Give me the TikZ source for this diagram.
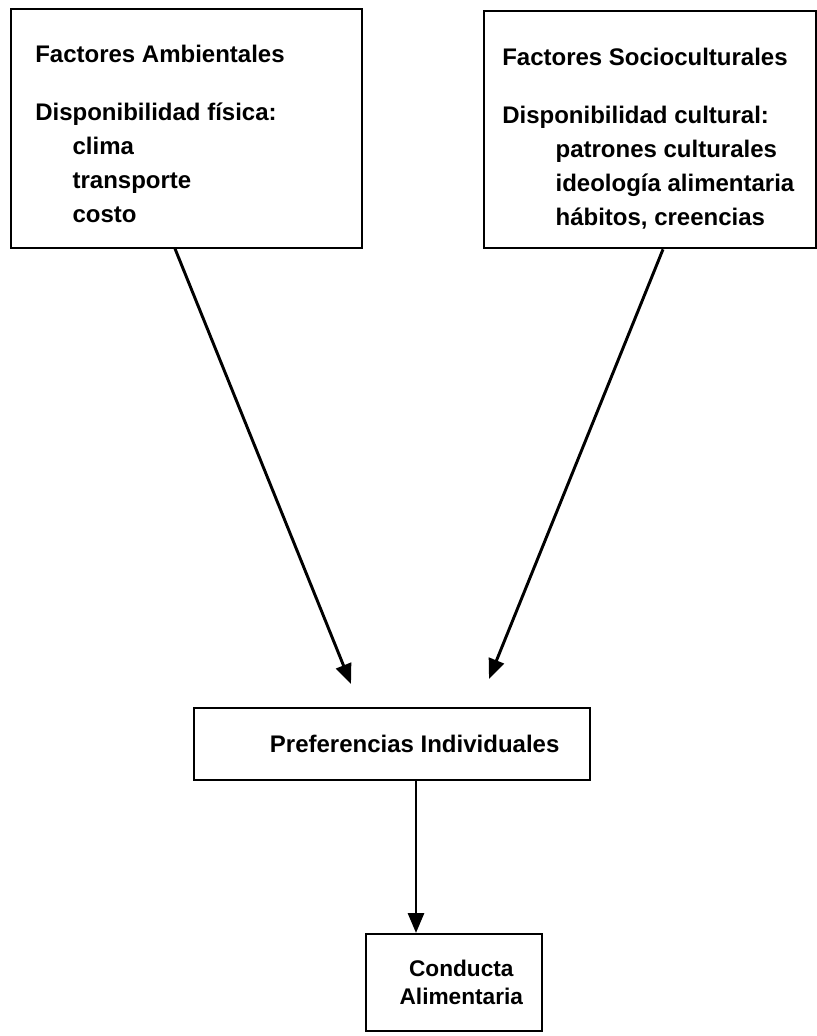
\documentclass[tikz,border=0pt]{standalone}
\usepackage{fontspec}
\setmainfont{Liberation Sans}
\usetikzlibrary{
  	positioning,
  	arrows.meta,
  	calc
  }

\begin{document}
\begin{tikzpicture}[x=.75pt, y=-.75pt,
  caja/.style={draw, line width=1.5pt, inner sep=0pt},
  texto/.style={font=\fontsize{18}{25.5}\selectfont\bfseries, align=left, inner sep=0pt},
  flecha/.style={-{Triangle[length=15pt, width=12pt]}, line width=2.2pt}]
  \useasboundingbox (0,0) rectangle (817,1036);
%
	\node[caja, anchor=north west, minimum width=263pt, minimum height=179pt] (amb) at (10,8) {};
	\node[texto, anchor=north west] (ambtxt) at ($(amb.north west)+(25,37)$)
		{Factores Ambientales\\[18pt]
		 Disponibilidad física:\\
		 \hspace*{28pt}clima\\
		 \hspace*{28pt}transporte\\
		 \hspace*{28pt}costo};
%
	\node[caja, anchor=north west, minimum width=249pt, minimum height=178pt] (soc) at (483,10) {};
	\node[texto, anchor=north west] (soctxt) at ($(soc.north west)+(19,38)$)
		{Factores Socioculturales\\[18pt]
		 Disponibilidad cultural:\\
		 \hspace*{40pt}patrones culturales\\
		 \hspace*{40pt}ideología alimentaria\\
		 \hspace*{40pt}hábitos, creencias};
%
	\node[caja, texto, anchor=north west, minimum width=297pt, minimum height=54pt] (pref) at (193,707)
		{\hspace*{34pt}Preferencias Individuales};
	\node[caja, texto, align=center, anchor=north west, minimum width=132pt, minimum height=73pt,
		font=\fontsize{17}{21}\selectfont\bfseries] (cond) at (365,933)
		{\hspace*{11pt}Conducta\\ \hspace*{11pt}Alimentaria};
%
	\coordinate (tipL) at (351,684);
	\coordinate (tipR) at (489,679);
	\coordinate (tipD) at (416,933);
	\draw[flecha] ($(amb.south west)+(165,0)$) -- (tipL);
	\draw[flecha] ($(soc.south west)+(180,0)$) -- (tipR);
	\draw[flecha] (pref.south -| tipD) -- (cond.north -| tipD);
\end{tikzpicture}
\end{document}
